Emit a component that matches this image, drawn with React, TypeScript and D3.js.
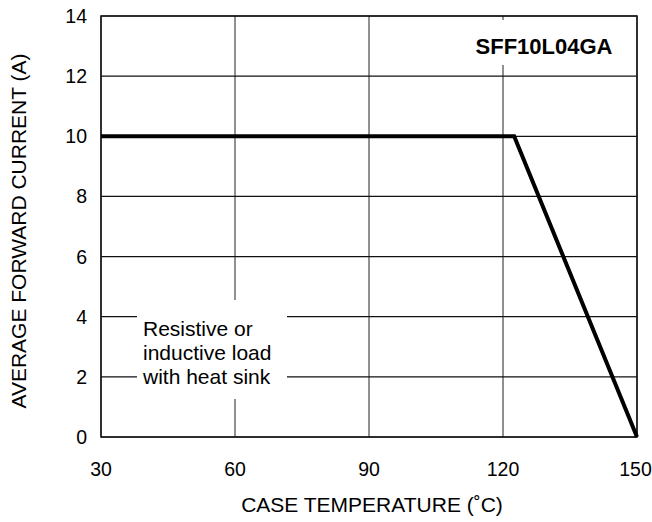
import * as d3 from "d3";

const X_TICKS = [30, 60, 90, 120, 150];
const Y_TICKS = [0, 2, 4, 6, 8, 10, 12, 14];
// derating curve: case temperature (C) -> average forward current (A)
const TEMP = [30, 122.5, 150];
const CURRENT = [10, 10, 0];
const NOTE_LINES = ["Resistive or", "inductive load", "with heat sink"];

const W = 652;
const H = 522;
const M = { top: 16, right: 15, bottom: 85, left: 101 };
const FONT = "Arial, 'Liberation Sans', sans-serif";

export default function App() {
  const x = d3.scaleLinear().domain([30, 150]).range([M.left, W - M.right]);
  const y = d3.scaleLinear().domain([0, 14]).range([H - M.bottom, M.top]);
  const pts = TEMP.map((t, i) => [t, CURRENT[i]] as [number, number]);
  const line = d3
    .line<[number, number]>()
    .x((d) => x(d[0]))
    .y((d) => y(d[1]));

  return (
    <svg
      width={W}
      height={H}
      style={{ position: "absolute", left: 0, top: 0, background: "#fff" }}
      fontFamily={FONT}
    >
      {/* grid */}
      {X_TICKS.map((t) => (
        <line key={"x" + t} x1={x(t)} x2={x(t)} y1={y(14)} y2={y(0)} stroke="#222" strokeWidth={1} />
      ))}
      {Y_TICKS.map((t) => (
        <line key={"y" + t} x1={x(30)} x2={x(150)} y1={y(t)} y2={y(t)} stroke="#111" strokeWidth={1.2} />
      ))}
      <rect x={x(30)} y={y(14)} width={x(150) - x(30)} height={y(0) - y(14)} fill="none" stroke="#111" strokeWidth={1.5} />

      {/* label boxes hiding grid */}
      <rect x={470} y={20} width={150} height={45} fill="#fff" />
      <rect x={137} y={300} width={150} height={99} fill="#fff" />

      <path d={line(pts) ?? ""} fill="none" stroke="#000" strokeWidth={4} strokeLinejoin="miter" />

      <text x={544} y={54} textAnchor="middle" fontSize={22} fontWeight="bold">
        SFF10L04GA
      </text>
      {NOTE_LINES.map((s, i) => (
        <text key={s} x={143} y={336 + i * 24} fontSize={21}>
          {s}
        </text>
      ))}

      {Y_TICKS.map((t) => (
        <text key={"yl" + t} x={x(30) - 14} y={y(t)} dy="0.36em" textAnchor="end" fontSize={19.5}>
          {t}
        </text>
      ))}
      {X_TICKS.map((t) => (
        <text key={"xl" + t} x={x(t) - (t === 150 ? 1.5 : 0)} y={y(0) + 39} textAnchor="middle" fontSize={19.5}>
          {t}
        </text>
      ))}
      <text x={372} y={512} textAnchor="middle" fontSize={21}>
        CASE TEMPERATURE (˚C)
      </text>
      <text
        transform={`translate(26, 231) rotate(-90)`}
        textAnchor="middle"
        fontSize={21}
      >
        AVERAGE FORWARD CURRENT (A)
      </text>
    </svg>
  );
}
